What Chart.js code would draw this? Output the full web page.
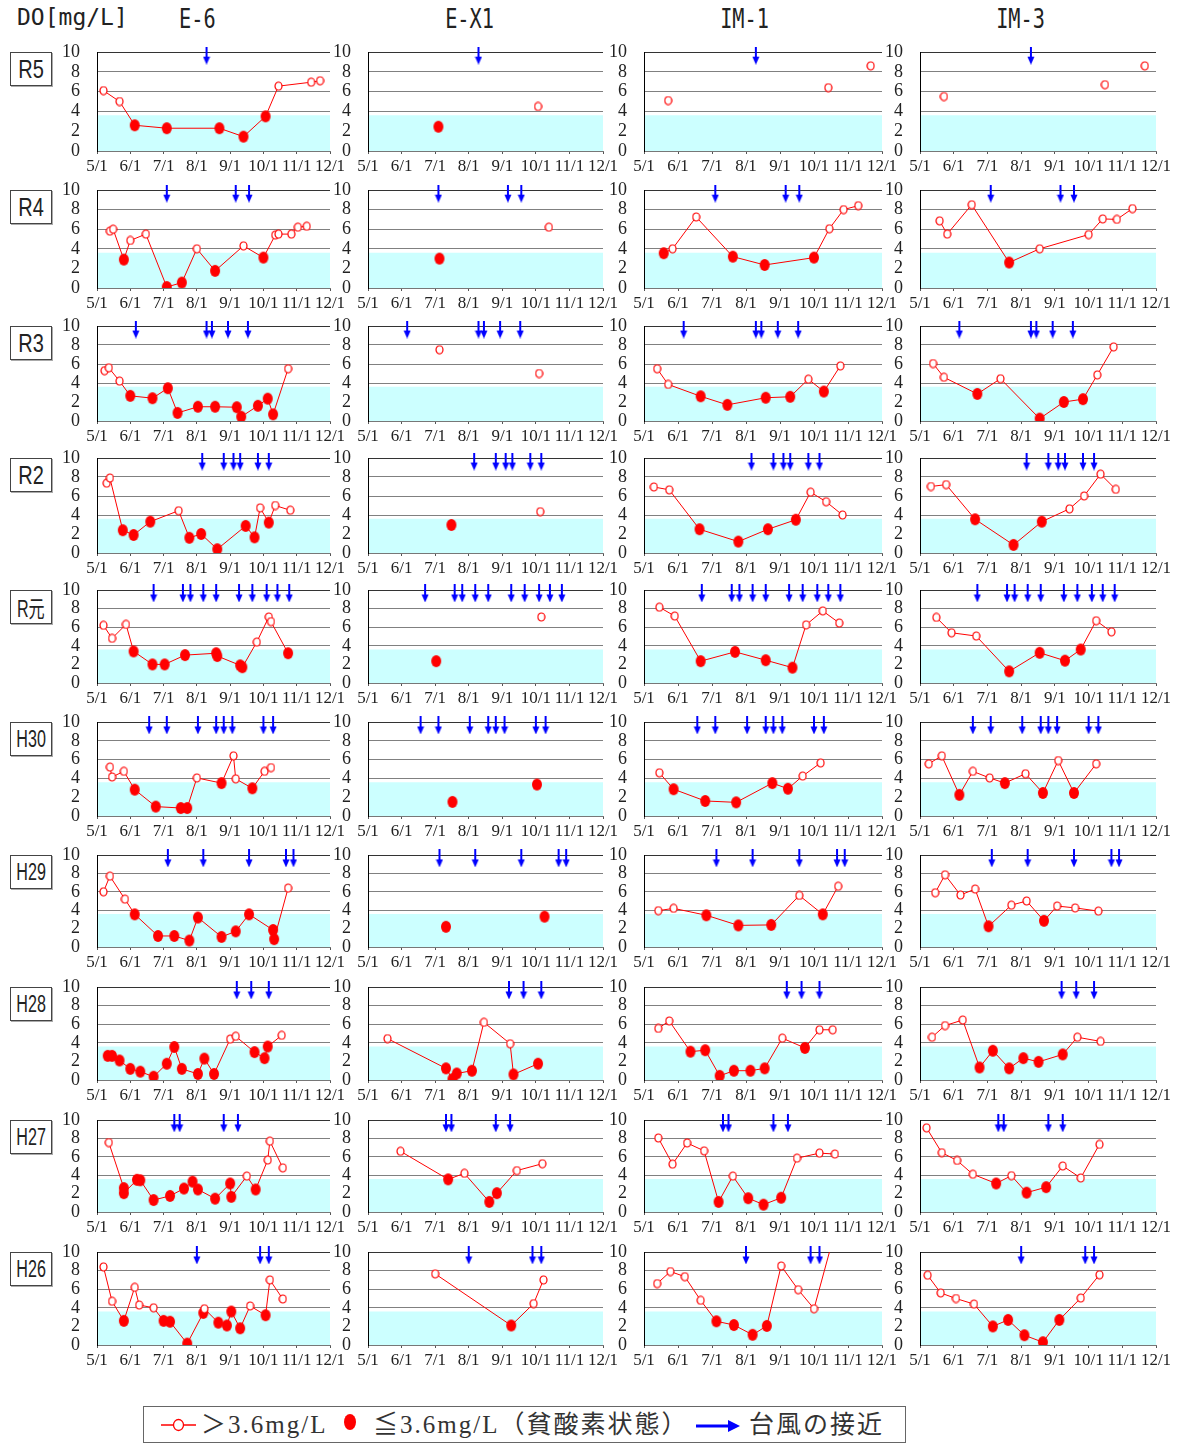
<!DOCTYPE html>
<html lang="ja">
<head>
<meta charset="UTF-8">
<title>DO 推移</title>
<script src="https://cdn.jsdelivr.net/npm/chart.js@4.4.1/dist/chart.umd.min.js"></script>
<style>
  html, body { margin: 0; padding: 0; background: #fff; }
  #page { position: relative; width: 1177px; height: 1443px; overflow: hidden; font-family: 'Liberation Serif', serif; }
  #page canvas { position: absolute; }
  .head { position: absolute; font-family: 'DejaVu Sans Mono', monospace; color: #222; white-space: nowrap; }
  .col-title { width: 140px; text-align: center; top: 3px; font-size: 27px; }
  .col-title span { display: inline-block; transform: scaleX(.75); }
  .year { position: absolute; left: 10px; width: 40px; height: 32px; border: 1px solid #444;
          box-shadow: 1px 1px 0 #aaa; background: #fff; display: flex; justify-content: center;
          align-items: center; white-space: nowrap;
          font-family: 'Liberation Sans', 'Noto Sans CJK JP', sans-serif; font-size: 25px; color: #222; }
  .year span { display: inline-block; transform: scaleX(.8); }
  .year span.wide { transform: scaleX(.7); font-size: 23px; }
  #legend { position: absolute; left: 143px; top: 1406px; width: 761px; height: 35px;
            border: 1px solid #666; background: #fff; }
  #legend .txt { position: absolute; top: 0; line-height: 35px; font-size: 25px; letter-spacing: 2px;
                 font-family: 'Liberation Serif', 'Noto Sans CJK JP', serif; color: #333; white-space: nowrap; }
  #legend svg { position: absolute; top: 0; }
</style>
</head>
<body>
<div id="page">
  <div class="head" style="left:17px; top:4px; font-size:23px;">DO[mg/L]</div>
  <div id="legend">
    <svg style="left:14px" width="42" height="35">
      <line x1="3" y1="18" x2="38" y2="18" stroke="#ff0000" stroke-width="1.5"/>
      <ellipse cx="20.5" cy="18" rx="5" ry="5.5" fill="#fff" stroke="#ff0000" stroke-width="1.3"/>
    </svg>
    <span class="txt" style="left:57px">＞3.6mg/L</span>
    <svg style="left:196px" width="20" height="35">
      <ellipse cx="10" cy="15" rx="6" ry="8" fill="#ff0000"/>
    </svg>
    <span class="txt" style="left:229px">≦3.6mg/L（貧酸素状態）</span>
    <svg style="left:550px" width="48" height="35">
      <line x1="2" y1="19" x2="36" y2="19" stroke="#0000ff" stroke-width="3"/>
      <polygon points="34,13 46,19 34,25" fill="#0000ff"/>
    </svg>
    <span class="txt" style="left:605px">台風の接近</span>
  </div>
</div>

<script>
// ---- data ----
const STATIONS = ['E-6', 'E-X1', 'IM-1', 'IM-3'];
const YEARS = ['R5', 'R4', 'R3', 'R2', 'R元', 'H30', 'H29', 'H28', 'H27', 'H26'];
const MONTH_TICKS = ['5/1', '6/1', '7/1', '8/1', '9/1', '10/1', '11/1', '12/1'];
const HYPOXIA_LIMIT = 3.6;

// typhoon approach dates, one list per year (same for every station)
const TYPHOONS = [
  ['8/10'],
  ['7/4', '9/6', '9/18'],
  ['6/6', '8/10', '8/15', '8/30', '9/17'],
  ['8/6', '8/26', '9/4', '9/10', '9/26', '10/6'],
  ['6/22', '7/19', '7/26', '8/7', '8/19', '9/9', '9/21', '10/4', '10/14', '10/25'],
  ['6/18', '7/4', '8/2', '8/19', '8/26', '9/3', '10/1', '10/10'],
  ['7/5', '8/7', '9/18', '10/22', '10/29'],
  ['9/7', '9/20', '10/6'],
  ['7/11', '7/16', '8/26', '9/8'],
  ['8/1', '9/28', '10/6']
];

// [date, DO mg/L] per year; null = break in the line
const E6 = [
  [['5/7',6.1],['5/22',5.0],['6/5',2.6],['7/4',2.3],['8/22',2.3],['9/13',1.45],['10/3',3.5],['10/15',6.55],['11/14',6.95],['11/22',7.1]],
  [['5/13',5.8],['5/16',6.0],['5/26',2.9],['6/1',4.85],['6/15',5.5],['7/4',0.1],['7/18',0.55],['8/1',4.0],['8/18',1.75],['9/13',4.3],['10/1',3.1],['10/12',5.4],['10/15',5.5],['10/27',5.5],['11/2',6.2],['11/10',6.3]],
  [['5/8',5.3],['5/12',5.6],['5/22',4.2],['6/1',2.65],['6/21',2.4],['7/5',3.45],['7/14',0.85],['8/2',1.5],['8/18',1.5],['9/7',1.45],['9/11',0.45],['9/26',1.6],['10/5',2.35],['10/10',0.7],['10/24',5.5]],
  [['5/10',7.35],['5/13',7.9],['5/25',2.4],['6/4',1.9],['6/19',3.3],['7/15',4.45],['7/25',1.6],['8/5',2.0],['8/20',0.4],['9/15',2.85],['9/23',1.65],['9/28',4.75],['10/6',3.2],['10/12',5.0],['10/26',4.5]],
  [['5/7',6.2],['5/15',4.8],['5/28',6.3],['6/4',3.4],['6/21',2.0],['7/2',2.0],['7/21',3.0],['8/19',3.2],['8/20',2.9],['9/10',1.9],['9/12',1.7],['9/25',4.4],['10/6',7.1],['10/8',6.6],['10/24',3.2]],
  [['5/13',5.2],['5/15',4.15],['5/26',4.75],['6/5',2.8],['6/24',1.0],['7/17',0.85],['7/23',0.85],['8/1',4.05],['8/24',3.5],['9/4',6.4],['9/6',3.95],['9/21',2.95],['10/2',4.75],['10/8',5.15]],
  [['5/7',6.0],['5/13',7.7],['5/27',5.2],['6/5',3.55],['6/26',1.2],['7/11',1.2],['7/25',0.7],['8/2',3.2],['8/24',1.1],['9/6',1.7],['9/18',3.55],['10/10',1.85],['10/11',0.85],['10/24',6.4]],
  [['5/11',2.6],['5/15',2.6],['5/22',2.1],['6/1',1.2],['6/10',0.9],['6/22',0.35],['7/4',1.75],['7/11',3.55],['7/18',1.2],['8/2',0.65],['8/8',2.3],['8/17',0.65],['9/1',4.4],['9/6',4.7],['9/23',3.0],['10/2',2.35],['10/5',3.6],['10/18',4.8]],
  [['5/12',7.55],['5/26',2.6],['5/26',2.05],['6/7',3.5],['6/10',3.45],['6/22',1.3],['7/7',1.75],['7/20',2.55],['7/28',3.3],['8/2',2.45],['8/18',1.45],['9/1',3.1],['9/2',1.65],['9/16',3.9],['9/24',2.45],['10/5',5.65],['10/7',7.7],['10/19',4.8]],
  [['5/7',8.4],['5/15',4.7],['5/26',2.6],['6/5',6.2],['6/9',4.3],['6/22',4.0],['7/1',2.6],['7/7',2.5],['7/23',0.15],['8/7',3.45],['8/8',3.9],['8/21',2.4],['8/29',2.1],['9/2',3.6],['9/10',1.8],['9/19',4.2],['10/3',3.2],['10/7',7.0],['10/19',4.95]]
];

const EX1 = [
  [['7/4',2.45],null,['10/3',4.5]],
  [['7/5',3.0],null,['10/13',6.2]],
  [['7/5',7.5],null,['10/4',5.0]],
  [['7/16',2.95],null,['10/5',4.35]],
  [['7/2',2.35],null,['10/6',7.1]],
  [['7/17',1.5],null,['10/2',3.35]],
  [['7/11',2.2],null,['10/9',3.3]],
  [['5/19',4.45],['7/11',1.25],['7/17',0.1],['7/21',0.7],['8/4',1.0],['8/15',6.2],['9/8',3.9],['9/11',0.6],['10/3',1.75]],
  [['5/31',6.6],['7/13',3.55],['7/28',4.2],['8/20',1.1],['8/27',2.05],['9/14',4.5],['10/7',5.25]],
  [['7/1',7.65],['9/9',2.1],['9/29',4.45],['10/8',7.0]]
];

const IM1 = [
  [['5/23',5.1],null,['10/14',6.4],null,['11/21',8.6]],
  [['5/19',3.55],['5/27',4.0],['6/17',7.25],['7/20',3.2],['8/18',2.35],['10/1',3.1],['10/15',6.05],['10/28',8.0],['11/10',8.4]],
  [['5/13',5.5],['5/23',3.85],['6/21',2.6],['7/15',1.7],['8/19',2.45],['9/10',2.55],['9/26',4.4],['10/10',3.1],['10/25',5.8]],
  [['5/10',6.95],['5/24',6.65],['6/20',2.5],['7/25',1.2],['8/21',2.5],['9/15',3.5],['9/28',6.4],['10/12',5.4],['10/27',4.0]],
  [['5/15',8.15],['5/29',7.2],['6/21',2.35],['7/22',3.35],['8/19',2.45],['9/12',1.65],['9/24',6.25],['10/9',7.75],['10/24',6.45]],
  [['5/15',4.6],['5/28',2.85],['6/25',1.6],['7/23',1.45],['8/25',3.5],['9/8',2.9],['9/21',4.25],['10/7',5.65]],
  [['5/14',3.95],['5/28',4.2],['6/26',3.45],['7/25',2.35],['8/24',2.4],['9/18',5.6],['10/9',3.55],['10/23',6.6]],
  [['5/14',5.55],['5/24',6.35],['6/12',3.05],['6/25',3.2],['7/8',0.45],['7/21',1.0],['8/5',1.0],['8/18',1.25],['9/3',4.5],['9/23',3.45],['10/6',5.4],['10/18',5.4]],
  [['5/14',8.05],['5/27',5.2],['6/9',7.5],['6/24',6.65],['7/7',1.1],['7/20',3.9],['8/3',1.5],['8/17',0.8],['9/2',1.55],['9/16',5.85],['10/6',6.4],['10/20',6.3]],
  [['5/13',6.6],['5/25',7.9],['6/7',7.35],['6/21',4.8],['7/5',2.55],['7/21',2.15],['8/7',1.1],['8/20',2.05],['9/2',8.5],['9/17',5.95],['10/1',3.9],['10/22',13]]
];

const IM3 = [
  [['5/23',5.5],null,['10/16',6.7],null,['11/21',8.6]],
  [['5/19',6.85],['5/26',5.5],['6/17',8.5],['7/21',2.6],['8/18',4.0],['10/1',5.45],['10/14',7.05],['10/27',7.0],['11/10',8.1]],
  [['5/13',6.05],['5/23',4.6],['6/22',2.85],['7/13',4.45],['8/18',0.25],['9/9',2.0],['9/26',2.3],['10/9',4.85],['10/24',7.8]],
  [['5/11',7.0],['5/25',7.2],['6/20',3.55],['7/25',0.85],['8/20',3.3],['9/14',4.65],['9/27',6.0],['10/12',8.3],['10/26',6.7]],
  [['5/16',7.05],['5/30',5.4],['6/21',5.05],['7/21',1.25],['8/18',3.25],['9/10',2.4],['9/24',3.6],['10/8',6.7],['10/22',5.5]],
  [['5/9',5.55],['5/21',6.4],['6/6',2.25],['6/18',4.75],['7/3',4.05],['7/17',3.5],['8/5',4.5],['8/21',2.45],['9/4',5.9],['9/18',2.45],['10/8',5.55]],
  [['5/15',5.9],['5/24',7.85],['6/7',5.65],['6/20',6.3],['7/2',2.25],['7/23',4.55],['8/6',5.0],['8/22',2.85],['9/3',4.45],['9/19',4.25],['10/10',3.9]],
  [['5/12',4.6],['5/24',5.85],['6/9',6.45],['6/24',1.35],['7/6',3.15],['7/21',1.25],['8/3',2.35],['8/17',1.95],['9/8',2.75],['9/21',4.6],['10/12',4.15]],
  [['5/7',9.15],['5/21',6.45],['6/4',5.6],['6/18',4.1],['7/9',3.1],['7/23',3.95],['8/6',2.1],['8/24',2.7],['9/8',5.0],['9/24',3.7],['10/11',7.35]],
  [['5/8',7.5],['5/20',5.6],['6/3',5.0],['6/19',4.4],['7/6',2.0],['7/20',2.7],['8/4',1.05],['8/21',0.3],['9/5',2.7],['9/24',5.05],['10/11',7.55]]
];

const SERIES = [E6, EX1, IM1, IM3];

// ---- layout ----
const COL_LEFT = [97, 368, 644, 920];
const COL_W = [233, 235, 238, 236];
const COL_TITLE_X = [197, 470, 745, 1021];
const ROW_TOP = [52, 190, 326, 458, 590, 722, 855, 987, 1120, 1252];
const ROW_H = [99, 98, 95, 95, 93, 94, 92, 93, 92, 93];
const AXIS_W = 42, PAD_TOP = 12, PAD_RIGHT = 18, XAXIS_H = 28;
const RED = '#ff0000', CYAN = '#ccffff', BLUE = '#0000ff';
const ARROW_Y = 9.63;
const TICK_FONT = "'Liberation Serif', 'Times New Roman', serif";

const DAYS_IN_MONTH = {5: 31, 6: 30, 7: 31, 8: 31, 9: 30, 10: 31, 11: 30};
function monthPos(md) {
  const [m, d] = md.split('/').map(Number);
  return (m - 5) + (d - 1) / DAYS_IN_MONTH[m];
}

function toPoints(list) {
  const out = [];
  list.forEach(p => {
    if (p === null) { out.push({x: out[out.length - 1].x, y: null}); return; }
    out.push({x: monthPos(p[0]), y: p[1]});
  });
  return out;
}

function ellipseImage(w, h, fill, stroke) {
  const c = document.createElement('canvas');
  c.width = w + 2; c.height = h + 2;
  const g = c.getContext('2d');
  g.beginPath();
  g.ellipse(c.width / 2, c.height / 2, w / 2, h / 2, 0, 0, Math.PI * 2);
  g.fillStyle = fill; g.fill();
  if (stroke) { g.strokeStyle = stroke; g.lineWidth = 1.2; g.stroke(); }
  return c;
}

function arrowImage() {
  const c = document.createElement('canvas');
  c.width = 8; c.height = 18;
  const g = c.getContext('2d');
  g.fillStyle = BLUE;
  g.fillRect(3, 0, 2, 11);
  g.beginPath();
  g.moveTo(0.5, 10); g.lineTo(7.5, 10); g.lineTo(4, 18);
  g.closePath(); g.fill();
  return c;
}

const dotOpen = ellipseImage(7, 8, '#fff', RED);
const dotFilled = ellipseImage(10, 12, RED);
const arrowImg = arrowImage();

const page = document.getElementById('page');

// column titles
STATIONS.forEach((s, c) => {
  const d = document.createElement('div');
  d.className = 'head col-title';
  d.style.left = (COL_TITLE_X[c] - 70) + 'px';
  d.innerHTML = '<span>' + s + '</span>';
  page.appendChild(d);
});

// year labels
YEARS.forEach((y, r) => {
  const d = document.createElement('div');
  d.className = 'year';
  d.style.top = ROW_TOP[r] + 'px';
  d.innerHTML = '<span' + (y.length > 2 || /[^\x00-\x7f]/.test(y) ? ' class="wide"' : '') + '>' + y + '</span>';
  page.appendChild(d);
});

function makeChart(r, c) {
  const cv = document.createElement('canvas');
  const w = AXIS_W + COL_W[c] + PAD_RIGHT;
  const h = PAD_TOP + ROW_H[r] + XAXIS_H;
  cv.width = w; cv.height = h;
  cv.style.left = (COL_LEFT[c] - AXIS_W) + 'px';
  cv.style.top = (ROW_TOP[r] - PAD_TOP) + 'px';
  page.appendChild(cv);

  const points = toPoints(SERIES[c][r]);
  const arrows = TYPHOONS[r].map(d => ({x: monthPos(d), y: ARROW_Y}));

  new Chart(cv, {
    type: 'line',
    data: {
      datasets: [
        {
          data: points,
          borderColor: RED,
          borderWidth: 1,
          tension: 0,
          spanGaps: false,
          pointRadius: 5,
          pointStyle: ctx => (ctx.raw && ctx.raw.y !== null && ctx.raw.y <= HYPOXIA_LIMIT) ? dotFilled : dotOpen,
          order: 1
        },
        {
          data: arrows,
          showLine: false,
          pointRadius: 5,
          pointStyle: arrowImg,
          clip: false,
          order: 2
        },
        {
          data: [{x: 0, y: HYPOXIA_LIMIT}, {x: 7, y: HYPOXIA_LIMIT}],
          borderWidth: 0,
          borderColor: 'transparent',
          pointRadius: 0,
          fill: 'origin',
          backgroundColor: CYAN,
          clip: {left: -1, top: 0, right: 0, bottom: 0},
          order: 3
        }
      ]
    },
    options: {
      responsive: false,
      animation: false,
      devicePixelRatio: 1,
      events: [],
      layout: {padding: {top: PAD_TOP, right: PAD_RIGHT, left: 0, bottom: 0}},
      plugins: {legend: {display: false}, tooltip: {enabled: false}},
      scales: {
        x: {
          type: 'linear',
          min: 0,
          max: 7,
          afterFit: s => { s.height = XAXIS_H; },
          ticks: {
            stepSize: 1,
            autoSkip: false,
            maxRotation: 0,
            minRotation: 0,
            padding: 2,
            color: '#222',
            font: {family: TICK_FONT, size: 17},
            callback: v => MONTH_TICKS[v]
          },
          grid: {drawOnChartArea: false, drawTicks: true, tickLength: 3, color: '#555'},
          border: {color: '#777', width: 1}
        },
        y: {
          min: 0,
          max: 10,
          afterFit: s => { s.width = AXIS_W; },
          ticks: {
            stepSize: 2,
            autoSkip: false,
            padding: 1,
            color: '#222',
            font: {family: TICK_FONT, size: 18}
          },
          grid: {
            drawTicks: true,
            tickLength: 16,
            tickColor: 'rgba(0,0,0,0)',
            color: ctx => ctx.tick && ctx.tick.value === 10 ? '#333' : '#808080'
          },
          border: {color: '#000', width: 1}
        }
      }
    }
  });
}

for (let r = 0; r < YEARS.length; r++) {
  for (let c = 0; c < STATIONS.length; c++) makeChart(r, c);
}
</script>
</body>
</html>
